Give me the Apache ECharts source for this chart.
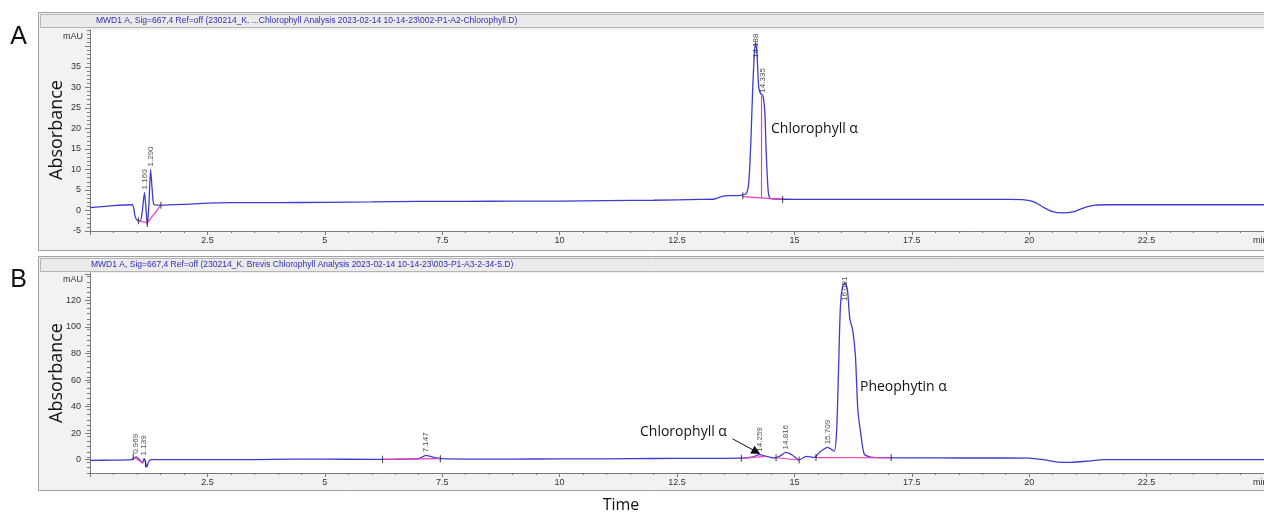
<!DOCTYPE html>
<html>
<head>
<meta charset="utf-8">
<title>Chromatograms</title>
<script src="https://cdn.jsdelivr.net/npm/echarts@6/dist/echarts.min.js"></script>
<style>
  html, body { margin: 0; padding: 0; background: #fff; }
  #chart { width: 1264px; height: 515px; }
</style>
</head>
<body>
<div id="chart"></div>
<script>
// ---- panel A : trace (min, mAU) ----
const timeA = [0, 0.5, 0.9, 0.96, 1.01, 1.07, 1.11, 1.16, 1.19, 1.22, 1.255, 1.29, 1.325, 1.36, 1.5,
  2.0, 2.5, 3.0, 4.0, 5.0, 6.0, 7.0, 8.0, 9.0, 10.0, 11.0, 12.0, 13.0, 13.3, 13.45, 13.6, 13.85,
  13.98, 14.03, 14.07, 14.11, 14.14, 14.17, 14.2, 14.24, 14.28, 14.33, 14.37, 14.4, 14.44, 14.48,
  14.6, 15, 16, 17, 18, 19, 19.6, 19.9, 20.1, 20.3, 20.5, 20.7, 20.95, 21.15, 21.4, 21.7, 23, 25]
const absA = [0.7, 1.2, 1.4, -1.5, -2.4, -2.6, -0.5, 4.4, 0.8, -3.5, 1.5, 10.0, 5.0, 1.5, 1.3,
  1.5, 1.8, 1.9, 1.9, 2.0, 2.1, 2.2, 2.2, 2.3, 2.3, 2.4, 2.5, 2.7, 2.8, 3.4, 3.6, 3.7,
  4.2, 7, 16, 29, 37, 41, 39, 30, 28.5, 28, 24, 14, 5, 3.0,
  2.8, 2.7, 2.7, 2.7, 2.7, 2.7, 2.7, 2.6, 2.1, 0.8, -0.3, -0.6, -0.3, 0.6, 1.3, 1.4, 1.4, 1.4]

// integration baselines (pink) and event marks, panel A
const baseA = [
  [[1.03, -2.5], [1.22, -3.0], [1.51, 1.3]],
  [[13.9, 3.4], [14.75, 2.7]],
  [[14.3, 3.0], [14.3, 28]]
]
const marksA = [[1.03, -2.5], [1.22, -3.2], [1.51, 1.3], [13.9, 3.6], [14.75, 2.7]]
const peakTimeA = [1.16, 1.29, 14.17, 14.32]
const peakAbsA = [4.4, 10.0, 41, 28]
const peakNameA = ['1.160', '1.290', '14.188', '14.335']

// ---- panel B ----
const timeB = [0, 0.5, 0.88, 0.94, 0.99, 1.04, 1.09, 1.12, 1.15, 1.18, 1.21, 1.25, 1.3, 1.5,
  2.5, 3.5, 4.3, 5, 6, 6.5, 7.0, 7.15, 7.3, 7.5, 8, 9, 10, 11, 12, 13, 13.8,
  14.1, 14.26, 14.4, 14.5, 14.57, 14.68, 14.82, 14.96, 15.1, 15.25, 15.43, 15.53, 15.71, 15.85,
  15.9, 15.94, 15.98, 16.03, 16.08, 16.13, 16.18, 16.24, 16.3, 16.35, 16.42, 16.49, 16.67,
  17.5, 18.5, 19.5, 20.0, 20.3, 20.6, 20.9, 21.3, 21.6, 22.5, 25]
const absB = [-0.5, -0.3, 0, 1.5, 2.2, 0.5, -1.5, -2.5, 1.0, -1.5, -5.5, -1.5, 0, 0,
  0, 0.1, 0.5, 0.4, 0.3, 0.4, 0.8, 3.3, 2.0, 0.8, 0.5, 0.5, 0.6, 0.7, 0.9, 1.0, 1.2,
  2.0, 3.8, 2.5, 1.8, 1.3, 2.5, 5.5, 3.4, -0.2, 2.5, 1.7, 5.5, 9.3, 6.3,
  22, 68, 116, 131, 133, 128, 106, 98, 78, 38, 18, 4, 1.7,
  1.4, 1.3, 1.3, 1.2, 0, -1.8, -2, -0.8, 0, 0, 0]

const baseB = [
  [[0.92, 2], [1.13, -2.5]],
  [[6.23, 0.3], [7.46, 0.8]],
  [[13.87, 1.1], [14.4, 2.5]],
  [[14.61, 1.5], [15.1, -0.2]],
  [[15.46, 1.6], [17.06, 1.5]]
]
const marksB = [[0.92, 2], [1.18, -3], [6.23, 0.3], [7.46, 0.8], [13.87, 1.1], [14.61, 1.5],
  [15.1, -0.2], [15.46, 1.6], [17.06, 1.5]]
const peakTimeB = [0.97, 1.14, 7.15, 14.26, 14.82, 15.71, 16.08]
const peakAbsB = [2.2, 1.0, 3.3, 3.8, 5.5, 9.3, 133]
const peakNameB = ['0.969', '1.139', '7.147', '14.259', '14.816', '15.709', '16.081']

// axis ticks / labels
const xMin = 0, xMax = 25, xStep = 2.5
const yLabelsA = [-5, 0, 5, 10, 15, 20, 25, 30, 35]
const yTicksA = [-5, 0, 5, 10, 15, 20, 25, 30, 35, 40]
const yLabelsB = [0, 20, 40, 60, 80, 100, 120]
const yTicksB = [0, 20, 40, 60, 80, 100, 120, 140]
const yRangeA = [-5, 44]
const yRangeB = [-10, 140.6]

const blue = '#3c3cd4'
const pink = '#f03cbc'
const axisGray = '#7a7a7a'
const font = '"Liberation Sans", Arial, sans-serif'

const grids = [
  { left: 90, top: 30, width: 1176, height: 201 },
  { left: 90, top: 273, width: 1176, height: 200 }
]

function minorTicks(range, step, majors) {
  const out = []
  for (let v = range[0]; v <= range[1]; v += step) {
    const r = Math.round(v * 100) / 100
    if (majors.indexOf(r) < 0) out.push(r)
  }
  return out
}

function xAxisFor(i) {
  return {
    type: 'value', gridIndex: i, min: xMin, max: xMax, interval: xStep,
    axisLine: { onZero: false, lineStyle: { color: axisGray } },
    axisTick: { length: 4, lineStyle: { color: axisGray } },
    minorTick: { show: true, splitNumber: 5, length: 2, lineStyle: { color: axisGray } },
    splitLine: { show: false },
    axisLabel: { showMinLabel: false, showMaxLabel: false, fontSize: 9, color: '#333', fontFamily: font, margin: 5 }
  }
}

// two y axes per panel: labelled major ticks, plus a bare one for the minor ticks
function yAxesFor(i, range, ticks, labels, minorStep) {
  return [{
    type: 'value', gridIndex: i, position: 'left', min: range[0], max: range[1],
    axisLine: { show: true, onZero: false, lineStyle: { color: axisGray } },
    axisTick: { show: true, length: 5, customValues: ticks, lineStyle: { color: axisGray } },
    axisLabel: { customValues: labels, fontSize: 9, color: '#333', fontFamily: font, margin: 9 },
    splitLine: { show: false }
  }, {
    type: 'value', gridIndex: i, position: 'left', offset: 0, min: range[0], max: range[1],
    axisLine: { show: false, onZero: false },
    axisTick: { show: true, length: 3, customValues: minorTicks(range, minorStep, ticks), lineStyle: { color: axisGray } },
    axisLabel: { show: false },
    splitLine: { show: false }
  }]
}

function traceSeries(i, times, values, extra) {
  return Object.assign({
    type: 'line', xAxisIndex: i, yAxisIndex: i * 2,
    data: times.map((t, k) => [t, values[k]]),
    showSymbol: false, smooth: 0.2, silent: true, z: 3,
    lineStyle: { color: blue, width: 1.3 }
  }, extra || {})
}

function baseSeries(i, segs) {
  return segs.map(s => ({
    type: 'line', xAxisIndex: i, yAxisIndex: i * 2, data: s,
    showSymbol: false, silent: true, z: 4,
    lineStyle: { color: pink, width: 1.2 }
  }))
}

function markSeries(i, pts) {
  return {
    type: 'scatter', xAxisIndex: i, yAxisIndex: i * 2, data: pts,
    symbol: 'rect', symbolSize: [1, 7], silent: true, z: 5,
    itemStyle: { color: '#111' }
  }
}

function labelSeries(i, times, heights, names, range) {
  const pxPerUnit = grids[i].height / (range[1] - range[0])
  const cap = range[1] - 31 / pxPerUnit
  return {
    type: 'scatter', xAxisIndex: i, yAxisIndex: i * 2, symbolSize: 0, silent: true, z: 6,
    data: times.map((t, k) => ({ value: [t, Math.min(heights[k], cap)], name: names[k] })),
    label: {
      show: true, formatter: p => p.name, position: 'top', distance: 3,
      rotate: 90, align: 'left', verticalAlign: 'middle',
      fontSize: 8, color: '#222', fontFamily: font
    }
  }
}

const chart = echarts.init(document.getElementById('chart'))

const option = {
  animation: false,
  backgroundColor: '#fff',
  grid: grids.map(g => Object.assign({ show: true, backgroundColor: '#fff', borderWidth: 0 }, g)),
  xAxis: [xAxisFor(0), xAxisFor(1)],
  yAxis: [].concat(
    yAxesFor(0, yRangeA, yTicksA, yLabelsA, 1),
    yAxesFor(1, yRangeB, yTicksB, yLabelsB, 4)
  ),
  series: [].concat(
    [traceSeries(0, timeA, absA)],
    baseSeries(0, baseA),
    [markSeries(0, marksA), labelSeries(0, peakTimeA, peakAbsA, peakNameA, yRangeA)],
    [traceSeries(1, timeB, absB, {
      markLine: {
        silent: true, symbol: ['none', 'triangle'], symbolSize: 9,
        lineStyle: { color: '#111', width: 1, type: 'solid' },
        label: { show: false },
        data: [[{ coord: [13.68, 15.8] }, { coord: [14.19, 6] }]]
      }
    })],
    baseSeries(1, baseB),
    [markSeries(1, marksB), labelSeries(1, peakTimeB, peakAbsB, peakNameB, yRangeB)]
  ),
  graphic: [
    // panel frames
    { type: 'rect', z: -10, shape: { x: 38.5, y: 12.5, width: 1300, height: 238 }, style: { fill: '#f2f2f2', stroke: '#a0a0a0' } },
    { type: 'rect', z: -9, shape: { x: 40.5, y: 14.5, width: 1300, height: 13 }, style: { fill: '#ebebeb', stroke: '#b4b4b4' } },
    { type: 'rect', z: -10, shape: { x: 38.5, y: 256.5, width: 1300, height: 234 }, style: { fill: '#f2f2f2', stroke: '#a0a0a0' } },
    { type: 'rect', z: -9, shape: { x: 40.5, y: 258.5, width: 1300, height: 13 }, style: { fill: '#ebebeb', stroke: '#b4b4b4' } },
    // header texts
    { type: 'text', z: 10, x: 96, y: 21, style: { text: 'MWD1 A, Sig=667,4 Ref=off (230214_K. ...Chlorophyll Analysis 2023-02-14 10-14-23\\002-P1-A2-Chlorophyll.D)', font: '8.5px ' + font, fill: '#2e2eb4', textVerticalAlign: 'middle' } },
    { type: 'text', z: 10, x: 91, y: 265, style: { text: 'MWD1 A, Sig=667,4 Ref=off (230214_K. Brevis Chlorophyll Analysis 2023-02-14 10-14-23\\003-P1-A3-2-34-5.D)', font: '8.5px ' + font, fill: '#2e2eb4', textVerticalAlign: 'middle' } },
    // unit labels
    { type: 'text', z: 10, x: 83, y: 37, style: { text: 'mAU', font: '9px ' + font, fill: '#333', textAlign: 'right', textVerticalAlign: 'middle' } },
    { type: 'text', z: 10, x: 83, y: 280, style: { text: 'mAU', font: '9px ' + font, fill: '#333', textAlign: 'right', textVerticalAlign: 'middle' } },
    { type: 'text', z: 10, x: 1253, y: 240.5, style: { text: 'min', font: '9px ' + font, fill: '#333', textVerticalAlign: 'middle' } },
    { type: 'text', z: 10, x: 1253, y: 482.5, style: { text: 'min', font: '9px ' + font, fill: '#333', textVerticalAlign: 'middle' } },
    // panel letters and axis titles
    { type: 'text', z: 10, x: 18.5, y: 37, style: { text: 'A', font: '25px ' + font, fill: '#111', textAlign: 'center', textVerticalAlign: 'middle' } },
    { type: 'text', z: 10, x: 18.5, y: 280, style: { text: 'B', font: '25px ' + font, fill: '#111', textAlign: 'center', textVerticalAlign: 'middle' } },
    { type: 'text', z: 10, x: 57, y: 130, rotation: Math.PI / 2, style: { text: 'Absorbance', font: '18px "Open Sans", sans-serif', fill: '#111', textAlign: 'center', textVerticalAlign: 'middle' } },
    { type: 'text', z: 10, x: 57, y: 373, rotation: Math.PI / 2, style: { text: 'Absorbance', font: '18px "Open Sans", sans-serif', fill: '#111', textAlign: 'center', textVerticalAlign: 'middle' } },
    { type: 'text', z: 10, x: 621, y: 505, style: { text: 'Time', font: '16px "Open Sans", sans-serif', fill: '#111', textAlign: 'center', textVerticalAlign: 'middle' } },
    // compound annotations
    { type: 'text', z: 10, x: 771, y: 129, style: { text: 'Chlorophyll α', font: '14px "Open Sans", sans-serif', fill: '#111', textVerticalAlign: 'middle' } },
    { type: 'text', z: 10, x: 640, y: 432, style: { text: 'Chlorophyll α', font: '14px "Open Sans", sans-serif', fill: '#111', textVerticalAlign: 'middle' } },
    { type: 'text', z: 10, x: 860, y: 387, style: { text: 'Pheophytin α', font: '14px "Open Sans", sans-serif', fill: '#111', textVerticalAlign: 'middle' } }
  ]
}

chart.setOption(option)
window.addEventListener('resize', () => chart.resize())
</script>
</body>
</html>
